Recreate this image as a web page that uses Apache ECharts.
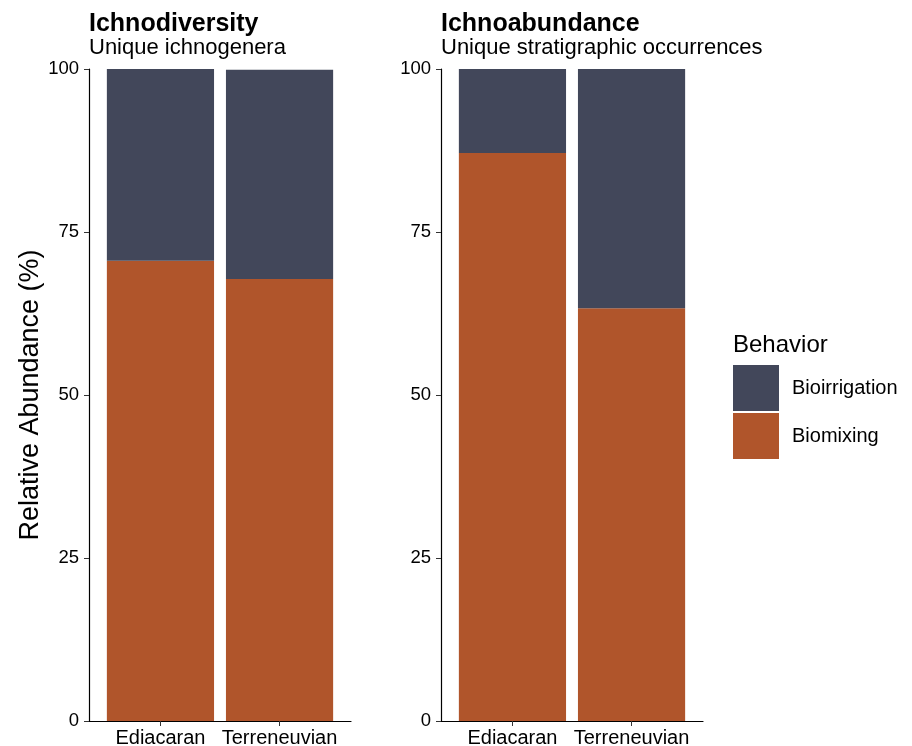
<!DOCTYPE html>
<html>
<head>
<meta charset="utf-8">
<script src="https://cdn.jsdelivr.net/npm/echarts@6/dist/echarts.min.js"></script>
<style>
  html, body { margin: 0; padding: 0; background: #ffffff; }
  #chart { width: 912px; height: 746px; }
</style>
</head>
<body>
<div id="chart"></div>
<script>
// Geological periods on the x axis
const periods = ['Ediacaran', 'Terreneuvian'];
// Behaviour groups (legend order)
const behaviors = ['Bioirrigation', 'Biomixing'];
// Ichnodiversity: share of unique ichnogenera (%)
const diversityBiomixing = [70.6, 67.8];
const diversityBioirrigation = [29.4, 32.1];
// Ichnoabundance: share of unique stratigraphic occurrences (%)
const abundanceBiomixing = [87.1, 63.3];
const abundanceBioirrigation = [12.9, 36.7];
// Y axis ticks
const yTicks = [0, 25, 50, 75, 100];

const colors = { Bioirrigation: '#42475a', Biomixing: '#b0552b' };
const FONT = '"Liberation Sans", Arial, Helvetica, sans-serif';
// Discrete positions 1, 2 on a continuous axis padded by 0.6 on each side
const xPos = periods.map((_, i) => i + 1);

const chart = echarts.init(document.getElementById('chart'), null, { renderer: 'canvas' });

function xAxisFor(gridIndex) {
  return {
    type: 'value', gridIndex, min: 0.4, max: 2.6,
    axisLine: { show: true, lineStyle: { color: '#000', width: 1.2 } },
    axisTick: { show: true, length: 5, customValues: xPos, lineStyle: { color: '#333' } },
    axisLabel: {
      customValues: xPos, color: '#000', fontFamily: FONT, fontSize: 20, margin: 7,
      formatter: v => periods[Math.round(v) - 1] || ''
    },
    splitLine: { show: false }
  };
}
function yAxisFor(gridIndex, withName) {
  return {
    type: 'value', gridIndex, min: yTicks[0], max: yTicks[yTicks.length - 1], interval: 25,
    axisLine: { show: true, lineStyle: { color: '#000', width: 1.2 } },
    axisTick: { show: true, length: 5, lineStyle: { color: '#333' } },
    axisLabel: { color: '#000', fontFamily: FONT, fontSize: 18.5, margin: 10 },
    splitLine: { show: false },
    name: withName ? 'Relative Abundance (%)' : '',
    nameLocation: 'middle', nameGap: 31,
    nameTextStyle: { color: '#000', fontFamily: FONT, fontSize: 27 }
  };
}
// value first, position second, so stacking runs on the value dimension
function pairs(vals) { return vals.map((v, i) => [v, xPos[i]]); }
function barSeries(name, idx, vals, stack) {
  return {
    type: 'bar', name, xAxisIndex: idx, yAxisIndex: idx, stack,
    encode: { x: 1, y: 0 },
    barWidth: '90%', data: pairs(vals),
    itemStyle: { color: colors[name] }, emphasis: { disabled: true }
  };
}

const titleStyle = { fontFamily: FONT, fontWeight: 'bold', fontSize: 25, color: '#000' };
const subStyle = { fontFamily: FONT, fontSize: 22, color: '#000' };

chart.setOption({
  animation: false,
  backgroundColor: '#ffffff',
  title: [
    { text: 'Ichnodiversity', subtext: 'Unique ichnogenera', left: 89, top: 12, padding: 0, itemGap: 0,
      textStyle: titleStyle, subtextStyle: subStyle },
    { text: 'Ichnoabundance', subtext: 'Unique stratigraphic occurrences', left: 441, top: 12, padding: 0, itemGap: 0,
      textStyle: titleStyle, subtextStyle: subStyle },
    { text: 'Behavior', left: 733, top: 333, padding: 0,
      textStyle: { fontFamily: FONT, fontWeight: 'normal', fontSize: 24, color: '#000' } }
  ],
  legend: {
    data: behaviors, orient: 'vertical', left: 733, top: 365, padding: 0,
    itemWidth: 46, itemHeight: 46, itemGap: 2, icon: 'rect',
    selectedMode: false,
    textStyle: { fontFamily: FONT, fontSize: 20, color: '#000', padding: [2, 0, 0, 8] }
  },
  grid: [
    { left: 89, top: 69, width: 262, height: 652, outerBoundsMode: 'none' },
    { left: 441, top: 69, width: 262, height: 652, outerBoundsMode: 'none' }
  ],
  xAxis: [xAxisFor(0), xAxisFor(1)],
  yAxis: [yAxisFor(0, true), yAxisFor(1, false)],
  series: [
    barSeries('Biomixing', 0, diversityBiomixing, 'div'),
    barSeries('Bioirrigation', 0, diversityBioirrigation, 'div'),
    barSeries('Biomixing', 1, abundanceBiomixing, 'abd'),
    barSeries('Bioirrigation', 1, abundanceBioirrigation, 'abd')
  ]
});
</script>
</body>
</html>
